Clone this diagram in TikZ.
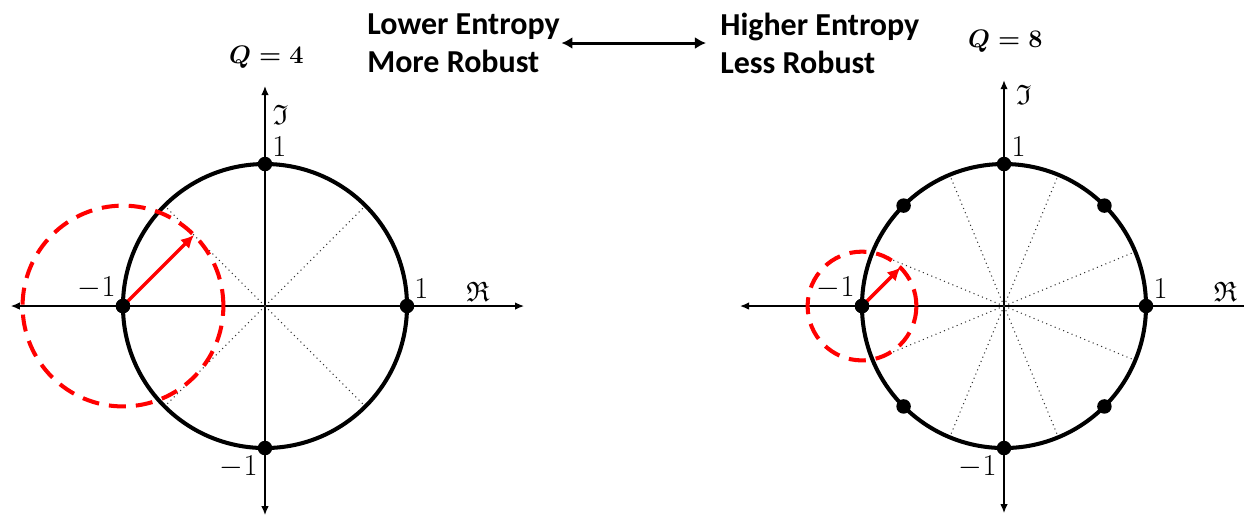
\documentclass[tikz,border=0pt]{standalone}
\usepackage{amsmath}
\usepackage{amssymb}
\usepackage{fontspec}
\newfontfamily\calib{Carlito}
\usetikzlibrary{arrows.meta,positioning}

\begin{document}
\begin{tikzpicture}[x=2.84cm, y=2.84cm,
  axis/.style={line width=0.75pt},
  unitc/.style={line width=2.3pt},
  sector/.style={black!80, dotted, line width=0.6pt},
  noise/.style={red, line width=2.3pt, dash pattern=on 0.34cm off 0.2cm},
  shiftarr/.style={red, line width=2pt, -{Latex[length=2.6mm,width=2.6mm]}},
  symb/.style={circle, fill=black, inner sep=0pt, minimum size=0.29cm},
  lbl/.style={font=\fontsize{16}{18}\selectfont, inner sep=1pt},
  side/.style={font=\calib\bfseries\fontsize{18.2}{21.5}\selectfont, align=left, inner sep=0pt},
  tradeoff/.style={line width=1.7pt, {Latex[length=2.2mm,width=2.4mm]}-{Latex[length=2.2mm,width=2.4mm]}}]
  \useasboundingbox (-1.866,-1.479) rectangle (6.894,2.155);

  \node[side, anchor=west] (low) at (0.718,1.852) {Lower Entropy\\More Robust};
  \node[side, anchor=west] (high) at (3.204,1.852) {Higher Entropy\\Less Robust};
  \draw[tradeoff, shorten <=0.03cm, shorten >=0.28cm] (low.east) -- (high.west);

  \coordinate (O4) at (0,0);
  \draw[axis, {Latex[length=1.8mm,width=1.5mm]}-{Latex[length=1.8mm,width=1.5mm]}] (-1.79,0) -- (1.824,0);
  \draw[axis, {Latex[length=1.8mm,width=1.5mm]}-{Latex[length=1.8mm,width=1.5mm]}] (0,-1.472) -- (0,1.549);
  \draw[sector] (O4) -- (45:1);
  \draw[sector] (O4) -- (135:1);
  \draw[sector] (O4) -- (225:1);
  \draw[sector] (O4) -- (315:1);
  \draw[unitc] (O4) circle (1);
  \node[symb] (q4a) at (0:1) {};
  \node[symb] (q4b) at (90:1) {};
  \node[symb] (q4c) at (180:1) {};
  \node[symb] (q4d) at (270:1) {};
  \draw[noise] (q4c.center) circle (0.707);
  \path (q4c.center) ++(45:0.707) coordinate (e4);
  \draw[shiftarr] (q4c.center) -- (e4);
  \node[symb] at (q4c) {};
  \node[lbl, anchor=south west] (t4b) at (q4b.north east) {$1$};
  \node[lbl, anchor=south east] (t4c) at (q4c.north west) {$-1$};
  \node[lbl, anchor=south west] (t4a) at (q4a.north east) {$1$};
  \node[lbl, anchor=north east] (t4d) at (q4d.south west) {$-1$};
  \node[lbl, anchor=south] (re4) at (1.5,0.02) {$\mathfrak{R}$};
  \node[lbl, anchor=west] (im4) at (0.04,1.35) {$\mathfrak{I}$};
  \node[lbl, anchor=base, font=\fontsize{14.5}{16}\selectfont] (qa) at (0.01,1.71) {$\boldsymbol{Q=4}$};

  \begin{scope}[shift={(5.204,0)}]
  \coordinate (O8) at (0,0);
  \draw[axis, {Latex[length=1.8mm,width=1.5mm]}-] (-1.859,0) -- (1.69,0);
  \draw[axis, {Latex[length=1.8mm,width=1.5mm]}-{Latex[length=1.8mm,width=1.5mm]}] (0,-1.458) -- (0,1.59);
  \draw[sector] (O8) -- (22.5:1);
  \draw[sector] (O8) -- (67.5:1);
  \draw[sector] (O8) -- (112.5:1);
  \draw[sector] (O8) -- (157.5:1);
  \draw[sector] (O8) -- (202.5:1);
  \draw[sector] (O8) -- (247.5:1);
  \draw[sector] (O8) -- (292.5:1);
  \draw[sector] (O8) -- (337.5:1);
  \draw[unitc] (O8) circle (1);
  \node[symb] (q8a) at (0:1) {};
  \node[symb] (q8b) at (45:1) {};
  \node[symb] (q8c) at (90:1) {};
  \node[symb] (q8d) at (135:1) {};
  \node[symb] (q8e) at (180:1) {};
  \node[symb] (q8f) at (225:1) {};
  \node[symb] (q8g) at (270:1) {};
  \node[symb] (q8h) at (315:1) {};
  \draw[noise] (q8e.center) circle (0.383);
  \path (q8e.center) ++(45:0.383) coordinate (e8);
  \draw[shiftarr] (q8e.center) -- (e8);
  \node[symb] at (q8e) {};
  \node[lbl, anchor=south west] (t8c) at (q8c.north east) {$1$};
  \node[lbl, anchor=south east] (t8e) at (q8e.north west) {$-1$};
  \node[lbl, anchor=south west] (t8a) at (q8a.north east) {$1$};
  \node[lbl, anchor=north east] (t8g) at (q8g.south west) {$-1$};
  \node[lbl, anchor=south] (re8) at (1.56,0.02) {$\mathfrak{R}$};
  \node[lbl, anchor=west] (im8) at (0.07,1.49) {$\mathfrak{I}$};
  \node[lbl, anchor=base, font=\fontsize{14.5}{16}\selectfont] (qb) at (0.01,1.817) {$\boldsymbol{Q=8}$};
  \end{scope}
\end{tikzpicture}
\end{document}
